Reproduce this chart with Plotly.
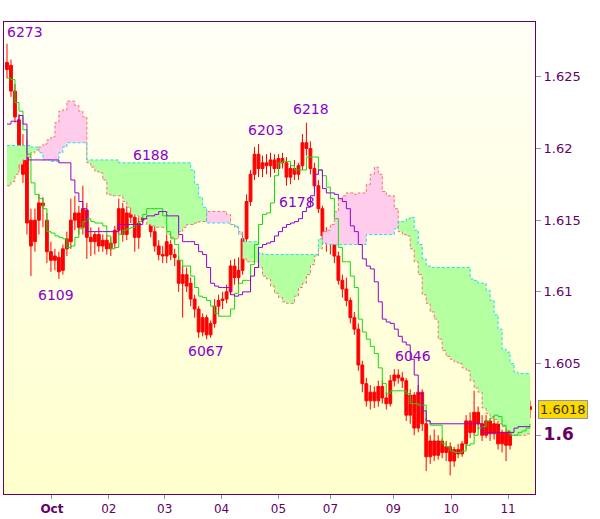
import plotly.graph_objects as go

# ---------------- data (prices in pips: 6273 -> 1.6273) ----------------
bar_open = [
    6255, 6258, 6240, 6220, 6200, 6195, 6150, 6135, 6150, 6162,
    6150, 6128, 6122, 6124, 6115, 6130, 6135, 6150, 6155, 6145,
    6157, 6138, 6135, 6140, 6132, 6136, 6130, 6134, 6143, 6158,
    6140, 6155, 6152, 6138, 6150, 6180, 6160, 6142, 6132, 6126,
    6125, 6133, 6126, 6122, 6106, 6112, 6106, 6095, 6088, 6072,
    6082, 6070, 6078, 6090, 6094, 6095, 6100, 6118, 6110, 6115,
    6137, 6163, 6182, 6196, 6186, 6190, 6188, 6192, 6186, 6193,
    6190, 6180, 6186, 6182, 6188, 6204, 6200, 6186, 6174, 6158,
    6139, 6134, 6138, 6125, 6108, 6102, 6094, 6082, 6074, 6049,
    6036, 6024, 6030, 6024, 6034, 6026, 6022, 6038, 6042, 6040,
    6038, 6014, 6028, 6005, 6030, 6008, 5985, 5996, 5986, 5996,
    5988, 5992, 5982, 5990, 5987, 5994, 6010, 6002, 6016, 6008,
    6000, 6010, 6001, 6008, 5994, 6002, 5993, 6015, 6006, 6016,
    6012, 6020]
bar_high = [
    6273, 6262, 6245, 6224, 6210, 6206, 6158, 6158, 6168, 6166,
    6155, 6135, 6130, 6128, 6133, 6142, 6165, 6167, 6160, 6174,
    6162, 6145, 6142, 6145, 6140, 6140, 6138, 6146, 6165, 6162,
    6160, 6162, 6158, 6152, 6188, 6185, 6163, 6146, 6136, 6132,
    6140, 6136, 6130, 6125, 6118, 6117, 6110, 6098, 6090, 6085,
    6084, 6080, 6095, 6098, 6100, 6105, 6122, 6123, 6124, 6140,
    6168, 6185, 6201, 6203, 6195, 6196, 6197, 6196, 6196, 6197,
    6194, 6190, 6192, 6190, 6210, 6218, 6205, 6190, 6178, 6160,
    6145, 6142, 6142, 6128, 6112, 6110, 6096, 6086, 6078, 6052,
    6040, 6035, 6034, 6038, 6038, 6030, 6042, 6046, 6046, 6044,
    6040, 6032, 6030, 6035, 6032, 6012, 6000, 6004, 6000, 5998,
    5996, 5995, 5992, 5994, 5996, 6014, 6016, 6031, 6020, 6014,
    6014, 6012, 6012, 6010, 6004, 6004, 6018, 6018, 6020, 6026,
    6022, 6024]
bar_low = [
    6249, 6236, 6218, 6185, 6176, 6140, 6111, 6128, 6140, 6145,
    6120, 6114, 6115, 6109, 6112, 6125, 6130, 6143, 6140, 6140,
    6123, 6125, 6126, 6128, 6128, 6126, 6125, 6130, 6140, 6135,
    6136, 6148, 6128, 6130, 6148, 6155, 6138, 6128, 6122, 6120,
    6120, 6122, 6118, 6100, 6082, 6100, 6090, 6082, 6068, 6069,
    6067, 6068, 6075, 6083, 6088, 6092, 6098, 6105, 6105, 6112,
    6134, 6160, 6178, 6180, 6180, 6182, 6180, 6183, 6184, 6186,
    6174, 6175, 6178, 6178, 6185, 6195, 6182, 6172, 6155, 6135,
    6128, 6126, 6120, 6105, 6096, 6090, 6078, 6070, 6045, 6030,
    6020, 6018, 6019, 6020, 6022, 6018, 6020, 6034, 6036, 6033,
    6010, 6008, 6000, 6002, 6003, 5975, 5980, 5982, 5983, 5984,
    5982, 5972, 5978, 5984, 5985, 5990, 5998, 6000, 6004, 5996,
    5998, 5996, 5997, 5990, 5988, 5982, 5990, 6003, 6003, 6010,
    6008, 6012]
bar_close = [
    6260, 6240, 6222, 6192, 6182, 6148, 6132, 6150, 6162, 6160,
    6128, 6122, 6125, 6114, 6130, 6137, 6150, 6155, 6145, 6158,
    6138, 6135, 6140, 6132, 6136, 6130, 6134, 6143, 6158, 6140,
    6155, 6152, 6138, 6148, 6182, 6160, 6142, 6132, 6126, 6125,
    6135, 6126, 6124, 6106, 6112, 6104, 6095, 6088, 6072, 6082,
    6070, 6078, 6090, 6094, 6095, 6100, 6118, 6110, 6115, 6137,
    6163, 6182, 6196, 6186, 6190, 6188, 6192, 6186, 6193, 6190,
    6180, 6186, 6182, 6188, 6204, 6200, 6186, 6174, 6158, 6139,
    6134, 6138, 6125, 6108, 6102, 6094, 6082, 6074, 6049, 6036,
    6024, 6030, 6024, 6034, 6026, 6022, 6038, 6042, 6040, 6038,
    6014, 6028, 6005, 6030, 6008, 5985, 5996, 5986, 5996, 5988,
    5992, 5982, 5990, 5987, 5994, 6010, 6002, 6016, 6008, 6000,
    6010, 6001, 6008, 5994, 6002, 5993, 6015, 6006, 6016, 6012,
    6020, 6018]
tenkan = [
    6249, 6248, 6232, 6226, 6213, 6196, 6176, 6168, 6165, 6158,
    6142, 6141, 6139, 6138, 6137, 6131, 6132, 6138, 6144, 6149,
    6151, 6149, 6148, 6148, 6146, 6139, 6130, 6131, 6140, 6143,
    6144, 6145, 6147, 6149, 6154, 6158, 6158, 6158, 6158, 6153,
    6142, 6137, 6133, 6122, 6118, 6118, 6111, 6103, 6097, 6096,
    6094, 6090, 6085, 6083, 6083, 6083, 6088, 6099, 6106, 6108,
    6108, 6119, 6133, 6147, 6154, 6155, 6162, 6181, 6190, 6191,
    6191, 6188, 6185, 6185, 6185, 6194, 6194, 6194, 6185, 6181,
    6173, 6165, 6151, 6131, 6121, 6121, 6111, 6103, 6081, 6072,
    6067, 6062, 6057, 6047, 6036, 6029, 6031, 6031, 6031, 6031,
    6029, 6022, 6022, 6021, 6021, 6010, 6007, 6007, 6007, 5994,
    5992, 5989, 5988, 5988, 5989, 5993, 5994, 6000, 6005, 6006,
    6010, 6012, 6014, 6013, 6007, 6003, 6000, 6000, 6002, 6003,
    6005, 6008]
kijun = [
    6217, 6219, 6219, 6223, 6217, 6192, 6192, 6192, 6192, 6192,
    6192, 6192, 6192, 6190, 6190, 6190, 6178, 6169, 6163, 6158,
    6142, 6142, 6142, 6142, 6142, 6142, 6142, 6142, 6147, 6147,
    6147, 6147, 6147, 6147, 6151, 6153, 6153, 6154, 6156, 6156,
    6153, 6153, 6153, 6140, 6135, 6135, 6135, 6133, 6128, 6126,
    6117, 6106, 6104, 6103, 6103, 6103, 6098, 6097, 6098, 6100,
    6100, 6111, 6117, 6131, 6133, 6134, 6135, 6139, 6142, 6145,
    6147, 6148, 6149, 6151, 6156, 6159, 6167, 6182, 6185, 6172,
    6169, 6169, 6168, 6165, 6163, 6158, 6146, 6142, 6133, 6123,
    6118, 6116, 6107, 6093, 6081, 6079, 6078, 6074, 6069, 6065,
    6063, 6053, 6042, 6029, 6017, 6010, 6008, 6008, 6008, 6008,
    6008, 6008, 6008, 6008, 6008, 6008, 6008, 6008, 6008, 6002,
    6002, 6002, 6002, 6002, 6002, 6002, 6002, 6005, 6006, 6006,
    6006, 6006]
span_a = [
    6202, 6202, 6202, 6202, 6202, 6202, 6201, 6201, 6197, 6192,
    6192, 6191, 6191, 6197, 6201, 6204, 6204, 6204, 6204, 6204,
    6192, 6192, 6192, 6192, 6192, 6192, 6192, 6192, 6190, 6190,
    6190, 6190, 6190, 6190, 6190, 6190, 6190, 6190, 6190, 6190,
    6190, 6190, 6190, 6190, 6190, 6190, 6185, 6175, 6166, 6159,
    6148, 6148, 6148, 6148, 6148, 6148, 6147, 6146, 6140, 6135,
    6135, 6135, 6135, 6127, 6126, 6126, 6126, 6126, 6126, 6126,
    6126, 6126, 6126, 6126, 6126, 6126, 6126, 6126, 6137, 6134,
    6133, 6133, 6133, 6133, 6133, 6133, 6133, 6133, 6133, 6133,
    6140, 6140, 6140, 6140, 6140, 6140, 6140, 6144, 6149, 6149,
    6151, 6152, 6143, 6133, 6123, 6118, 6117, 6117, 6117, 6117,
    6117, 6117, 6117, 6117, 6117, 6117, 6109, 6108, 6106, 6106,
    6101, 6094, 6084, 6074, 6060, 6058, 6050, 6044, 6043, 6043,
    6043, 6043]
span_b = [
    6174, 6177, 6182, 6189, 6192, 6194, 6197, 6199, 6201, 6203,
    6206, 6208, 6218, 6226, 6227, 6233, 6233, 6230, 6226, 6222,
    6190, 6187, 6184, 6183, 6178, 6168, 6167, 6167, 6167, 6163,
    6159, 6154, 6153, 6152, 6151, 6147, 6146, 6145, 6145, 6145,
    6140, 6138, 6137, 6142, 6145, 6147, 6147, 6148, 6149, 6149,
    6156, 6156, 6156, 6156, 6156, 6154, 6147, 6145, 6142, 6123,
    6121, 6121, 6121, 6117, 6111, 6109, 6104, 6099, 6096, 6093,
    6092, 6092, 6097, 6103, 6106, 6112, 6119, 6125, 6130, 6142,
    6143, 6147, 6156, 6165, 6167, 6169, 6169, 6168, 6169, 6169,
    6175, 6182, 6187, 6182, 6170, 6167, 6167, 6158, 6142, 6140,
    6139, 6130, 6121, 6112, 6098, 6092, 6086, 6081, 6067, 6059,
    6055, 6053, 6051, 6050, 6047, 6045, 6038, 6033, 6030, 6019,
    6015, 6013, 6011, 6008, 6006, 6003, 6001, 6000, 6000, 6000,
    6001, 6001]

# extreme-price labels and the bar they belong to
peak_labels = ["6273", "6188", "6109", "6067", "6203", "6218", "6178", "6046"]
peak_bars = [0, 34, 13, 50, 63, 75, 73, 97]

# x-axis: day-start positions (in bar units) and their labels
day_ticks = [11.25, 25.5, 39.5, 53.75, 68, 81, 96.75, 111.25, 125.5]
day_labels = ["<b>Oct</b>", "02", "03", "04", "05", "07", "09", "10", "11"]

y_ticks = [1.6, 1.605, 1.61, 1.615, 1.62, 1.625]
last_price = "1.6018"

n = len(bar_close)
for arr in (bar_open, bar_high, bar_low, tenkan, kijun, span_a, span_b):
    assert len(arr) == n, len(arr)


def px(p):
    return 1 + p / 10000.0


xs = list(range(n))
o = [px(v) for v in bar_open]
h = [px(v) for v in bar_high]
lo = [px(v) for v in bar_low]
c = [px(v) for v in bar_close]
ta = [px(v) for v in tenkan]
kj = [px(v) for v in kijun]
sa = [px(v) for v in span_a]
sb = [px(v) for v in span_b]
top = [max(a, b) for a, b in zip(sa, sb)]

# ---------------- styles ----------------
GREEN_FILL = "#B4FFA0"
PINK_FILL = "#FFCCEC"
CYAN = "#22DDEE"
SALMON = "#FF6F6F"
RED = "#FF0000"
TENKAN_C = "#11DD11"
KIJUN_C = "#9400D3"
LABEL_C = "#8A00CC"
AXIS_C = "#660066"
TICK_C = "#8899AA"
FONT = "DejaVu Sans"

fig = go.Figure()

# cloud: green where span A above span B
fig.add_trace(go.Scatter(x=xs, y=sb, mode="lines", line=dict(width=0, shape="hv"),
                         showlegend=False, hoverinfo="skip"))
fig.add_trace(go.Scatter(x=xs, y=top, mode="lines", line=dict(width=0, shape="hv"),
                         fill="tonexty", fillcolor=GREEN_FILL, showlegend=False,
                         hoverinfo="skip"))
# pink where span B above span A
fig.add_trace(go.Scatter(x=xs, y=sa, mode="lines", line=dict(width=0, shape="hv"),
                         showlegend=False, hoverinfo="skip"))
fig.add_trace(go.Scatter(x=xs, y=top, mode="lines", line=dict(width=0, shape="hv"),
                         fill="tonexty", fillcolor=PINK_FILL, showlegend=False,
                         hoverinfo="skip"))
# span borders
fig.add_trace(go.Scatter(x=xs, y=sb, mode="lines",
                         line=dict(color=SALMON, width=1, dash="3px,2px", shape="hv"),
                         showlegend=False))
fig.add_trace(go.Scatter(x=xs, y=sa, mode="lines",
                         line=dict(color=CYAN, width=1, dash="3px,2px", shape="hv"),
                         showlegend=False))

# candles
fig.add_trace(go.Candlestick(
    x=xs, open=o, high=h, low=lo, close=c,
    increasing=dict(line=dict(color=RED, width=1), fillcolor=RED),
    decreasing=dict(line=dict(color=RED, width=1), fillcolor=RED),
    whiskerwidth=0, showlegend=False))

fig.add_trace(go.Scatter(x=xs, y=ta, mode="lines",
                         line=dict(color=TENKAN_C, width=1, shape="hv"), showlegend=False))
fig.add_trace(go.Scatter(x=xs, y=kj, mode="lines",
                         line=dict(color=KIJUN_C, width=1, shape="hv"), showlegend=False))

# gradient background bands
bands = 48
c_top = (255, 255, 246)
c_bot = (255, 255, 204)
shapes = []
for k in range(bands):
    t = k / (bands - 1)
    col = tuple(round(c_top[j] + (c_bot[j] - c_top[j]) * t) for j in range(3))
    shapes.append(dict(type="rect", xref="paper", yref="paper", x0=0, x1=1,
                       y0=1 - (k + 1) / bands, y1=1 - k / bands + 0.001,
                       fillcolor="rgb(%d,%d,%d)" % col, line=dict(width=0),
                       layer="below"))

# label offsets (pixels) relative to the bar and price they mark
label_shift = [(18, 12), (8, 11), (-3, -16), (-1, -12), (7, 14), (5, 14), (-1, -22), (19, 13)]
annotations = []
for text, b, (dx, dy) in zip(peak_labels, peak_bars, label_shift):
    annotations.append(dict(x=b, y=px(int(text)), text=text, showarrow=False,
                            xanchor="center", yanchor="middle", xshift=dx, yshift=dy,
                            font=dict(family=FONT, size=14, color=LABEL_C)))
annotations.append(dict(x=1.006, xref="paper", y=float(last_price), yref="y",
                        text=last_price, showarrow=False, xanchor="left",
                        yanchor="middle", bgcolor="#FFD800", bordercolor="#8899AA",
                        borderwidth=1, borderpad=1,
                        font=dict(family=FONT, size=13, color="#333300")))

y_text = []
for v in y_ticks:
    s = ("%g" % v)
    if v == 1.6:
        s = "<b><span style='font-size:17px'>1.6</span></b>"
    y_text.append(s)

fig.update_layout(
    width=600, height=519,
    margin=dict(l=3, r=65, t=22, b=23),
    paper_bgcolor="white", plot_bgcolor="#FFFFE6",
    shapes=shapes, annotations=annotations,
    showlegend=False, boxgap=0.0,
    xaxis=dict(range=[-0.75, n + 0.25], tickvals=day_ticks, ticktext=day_labels,
               ticks="outside", ticklen=4, tickcolor=TICK_C, showgrid=False,
               zeroline=False, showline=True, mirror=True, linecolor=AXIS_C,
               linewidth=1, rangeslider=dict(visible=False),
               tickfont=dict(family=FONT, size=12, color=AXIS_C)),
    yaxis=dict(side="right", range=[1.595903, 1.628819], tickvals=y_ticks,
               ticktext=y_text, ticks="outside", ticklen=5, tickcolor=TICK_C,
               showgrid=False, zeroline=False, showline=True, mirror=True,
               linecolor=AXIS_C, linewidth=1,
               tickfont=dict(family=FONT, size=13, color=AXIS_C)),
)

fig.write_html("out.html",
               config={"displayModeBar": False},
               post_script="document.body.style.margin='0';"
                           "document.body.style.padding='0';"
                           "document.body.style.overflow='hidden';")
